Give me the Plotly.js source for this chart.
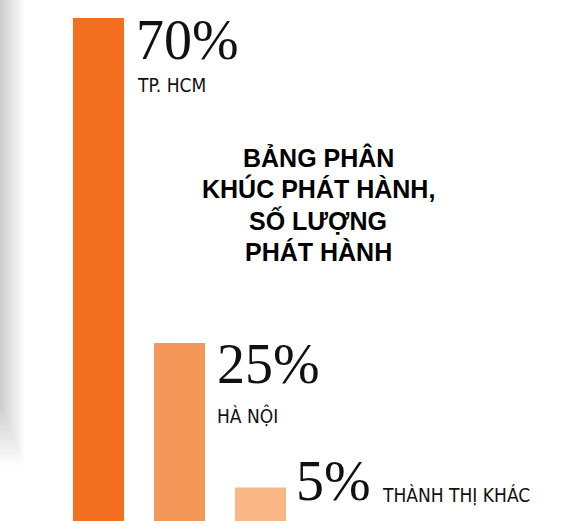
<!DOCTYPE html>
<html>
<head>
<meta charset="utf-8">
<script src="https://cdn.plot.ly/plotly-3.0.1.min.js"></script>
<style>html,body{margin:0;padding:0;background:#fff;}#chart{width:565px;height:521px;}</style>
</head>
<body>
<div id="chart"></div>
<script>
// ---- data ----
const categories = ["TP. HCM", "HÀ NỘI", "THÀNH THỊ KHÁC"];
const values = [70, 25, 5];
const valueLabels = ["70%", "25%", "5%"];
const barColors = ["#F37021", "#F6975A", "#F9B686"];
const titleLines = ["BẢNG PHÂN", "KHÚC PHÁT HÀNH,", "SỐ LƯỢNG", "PHÁT HÀNH"];

const W = 565, H = 521;
const px = x => x / W;
const py = y => 1 - y / H;

const serif = "Liberation Serif, Times New Roman, serif";
const narrow = "DejaVu Sans Condensed, Liberation Sans Narrow, Arial Narrow, sans-serif";
const bold = "Liberation Sans, Arial, sans-serif";

const trace = {
  type: "bar",
  x: categories,
  y: values,
  marker: { color: barColors, line: { width: 0 } },
  hoverinfo: "none",
  showlegend: false
};

// label placement (pixels): value label & category label
const valuePos = [[134, 59], [215, 383], [294, 500]];
const catPos = [[135, 92], [215, 422], [380, 502]];
const numSize = 56, catSize = 19;

const annotations = [];
for (let i = 0; i < categories.length; i++) {
  annotations.push({
    xref: "paper", yref: "paper", xanchor: "left", yanchor: "middle",
    x: px(valuePos[i][0]), y: py(valuePos[i][1] - 0.3375 * numSize),
    text: valueLabels[i], showarrow: false,
    font: { family: serif, size: numSize, color: "#111" }
  });
  annotations.push({
    xref: "paper", yref: "paper", xanchor: "left", yanchor: "middle",
    x: px(catPos[i][0]), y: py(catPos[i][1] - 0.36 * catSize),
    text: categories[i], showarrow: false,
    font: { family: narrow, size: catSize, color: "#111" }
  });
}
const tSize = 25, tGap = 31.5, tBase = 166;
titleLines.forEach((t, k) => {
  annotations.push({
    xref: "paper", yref: "paper", xanchor: "center", yanchor: "middle",
    x: px(318), y: py(tBase + k * tGap - 0.3465 * tSize),
    text: "<b>" + t + "</b>", showarrow: false,
    font: { family: bold, size: tSize, color: "#000" }
  });
});

// left page shadow (decorative)
const shapes = [];
const N = 12;
for (let i = 1; i <= N; i++) {
  shapes.push({
    type: "rect", xref: "paper", yref: "paper", layer: "below",
    x0: 0, x1: px(2 * i), y0: 1, y1: py(405 + 5 * i),
    fillcolor: "rgba(0,0,0,0.016)", line: { width: 0 }
  });
}

const layout = {
  width: W, height: H,
  margin: { l: 0, r: 0, t: 0, b: 0, pad: 0 },
  paper_bgcolor: "#fff", plot_bgcolor: "rgba(0,0,0,0)",
  bargap: 0.37,
  xaxis: { range: [-1.216, 5.759], visible: false, fixedrange: true },
  yaxis: { range: [0.36, 72.5], visible: false, fixedrange: true },
  annotations: annotations,
  shapes: shapes
};

Plotly.newPlot("chart", [trace], layout, { staticPlot: true, displayModeBar: false });
</script>
</body>
</html>
